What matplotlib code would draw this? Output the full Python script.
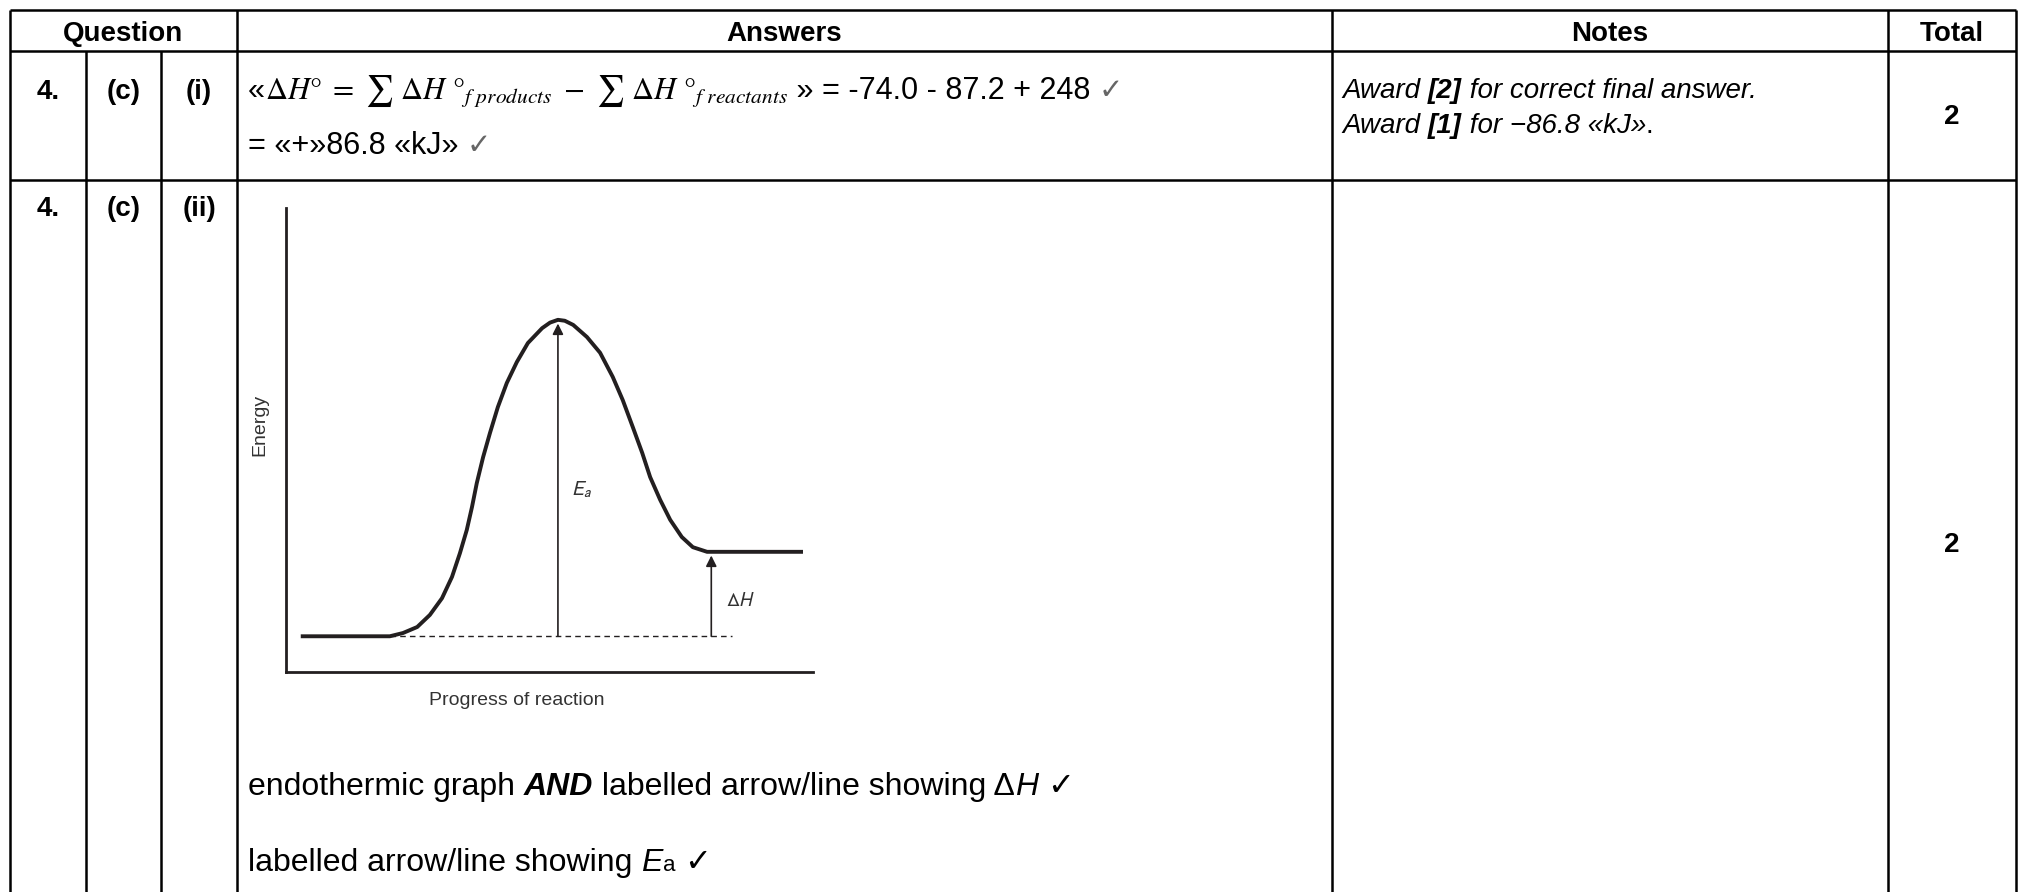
import matplotlib.pyplot as plt

# fonts: Arial-like text, serif math for the formula
plt.rcParams['font.family'] = ['Liberation Sans', 'DejaVu Sans']
plt.rcParams['mathtext.fontset'] = 'stix'

# ---- table content ----
headers = ['Question', 'Answers', 'Notes', 'Total']
row_labels = [['4.', '(c)', '(i)'], ['4.', '(c)', '(ii)']]
totals = ['2', '2']
formula = (r'$\Delta H°\ =\ \sum\ \Delta H\ °_{f\ products}'
           r'\ -\ \sum\ \Delta H\ °_{f\ reactants}$')
working = ' » = -74.0 - 87.2 + 248'
result = '= «+»86.8 «kJ»'
note_marks = ['[2]', '[1]']
note_tails = [' for correct final answer.', ' for \u221286.8 «kJ»']
mark_line1 = ['endothermic graph ', 'AND', ' labelled arrow/line showing \u0394', 'H', ' \u2713']
mark_line2 = ['labelled arrow/line showing ', 'E', 'a', ' \u2713']

# ---- energy profile (progress %, energy %) ----
progress = [2.8, 19.7, 22.2, 24.9, 27.3, 29.6, 31.5, 33.0, 34.3, 35.3, 36.2,
            37.4, 38.7, 40.2, 41.9, 43.8, 45.9, 48.6, 50.1, 51.6, 52.9, 54.5,
            57.1, 59.6, 62.0, 63.9, 65.8, 67.6, 69.1, 71.0, 72.9, 75.1, 77.2,
            79.9, 98.1]
energy = [7.7, 7.7, 8.4, 9.7, 12.3, 15.9, 20.5, 25.6, 30.6, 35.6, 40.7,
          46.3, 51.5, 57.1, 62.3, 66.8, 70.9, 74.1, 75.3, 75.9, 75.7, 74.8,
          72.2, 68.8, 63.6, 58.6, 52.8, 47.2, 42.0, 37.1, 32.8, 29.1, 26.9,
          25.9, 25.9]
reactant_level = 7.7
product_level = 25.9
peak_level = 75.9
peak_x = 51.6
dh_x = 80.7

# ---- figure in pixel units ----
W, H = 2018, 892
fig = plt.figure(figsize=(W / 100, H / 100), dpi=100)
ax = fig.add_axes([0, 0, 1, 1])
ax.set_xlim(0, W)
ax.set_ylim(H, 0)
ax.axis('off')
renderer = fig.canvas.get_renderer()

col_x = [10, 86, 161, 237, 1332, 1888, 2016]
row_y = [10, 51, 180]
lw = 1.8

for y in row_y:
    ax.hlines(y, col_x[0], col_x[-1], color='black', lw=lw)
for i, x in enumerate(col_x):
    top = row_y[0] if i in (0, 3, 4, 5, 6) else row_y[1]
    ax.vlines(x, top, H, color='black', lw=lw)


def run(x, y, pieces):
    # draw text pieces one after another along a baseline
    for txt, kw in pieces:
        t = ax.text(x, y, txt, ha='left', va='baseline', **kw)
        x += t.get_window_extent(renderer).width
    return x


# header
head_cx = [(col_x[0] + col_x[3]) / 2, (col_x[3] + col_x[4]) / 2,
           (col_x[4] + col_x[5]) / 2, (col_x[5] + col_x[6]) / 2]
for cx, h in zip(head_cx, headers):
    ax.text(cx, 41, h, ha='center', va='baseline', fontsize=20, fontweight='bold')

# row labels and totals
lab_cx = [(col_x[k] + col_x[k + 1]) / 2 for k in range(3)]
for base, labs in zip([99, 216], row_labels):
    for cx, lab in zip(lab_cx, labs):
        ax.text(cx, base, lab, ha='center', va='baseline', fontsize=20, fontweight='bold')
for base, tot in zip([124, 552], totals):
    ax.text(head_cx[3], base, tot, ha='center', va='baseline', fontsize=20, fontweight='bold')

# row 1 answers
sz = 22
check = dict(fontsize=sz - 1, color='#666666', family=['DejaVu Sans'])
run(248, 99, [('«', dict(fontsize=sz)),
              (formula, dict(fontsize=22)),
              (working + ' ', dict(fontsize=sz)),
              ('\u2713', check)])
run(248, 154, [(result + ' ', dict(fontsize=sz)),
               ('\u2713', check)])

# row 1 notes
nz = 20
for base, mark, tail in zip([98, 133], note_marks, note_tails):
    end = run(1342, base, [('Award ', dict(fontsize=nz, style='italic')),
                           (mark, dict(fontsize=nz, style='italic', fontweight='bold')),
                           (tail, dict(fontsize=nz, style='italic'))])
    if mark == '[1]':
        ax.text(end, base, '.', ha='left', va='baseline', fontsize=nz)

# row 2 markscheme lines
bz = 23
run(248, 795, [(mark_line1[0], dict(fontsize=bz)),
               (mark_line1[1], dict(fontsize=bz, style='italic', fontweight='bold')),
               (mark_line1[2], dict(fontsize=bz)),
               (mark_line1[3], dict(fontsize=bz, style='italic')),
               (mark_line1[4], dict(fontsize=bz, family=['DejaVu Sans']))])
run(248, 871, [(mark_line2[0], dict(fontsize=bz)),
               (mark_line2[1], dict(fontsize=bz, style='italic')),
               (mark_line2[2], dict(fontsize=bz - 7)),
               (mark_line2[3], dict(fontsize=bz, family=['DejaVu Sans']))])

# ---- energy profile diagram ----
left, right, top, bottom = 286, 813, 208, 672
dax = fig.add_axes([left / W, 1 - bottom / H, (right - left) / W, (bottom - top) / H])
dax.set_xlim(0, 100)
dax.set_ylim(0, 100)
dax.set_xticks([])
dax.set_yticks([])
dax.patch.set_alpha(0)
for s in ['top', 'right']:
    dax.spines[s].set_visible(False)
for s in ['left', 'bottom']:
    dax.spines[s].set_linewidth(2.0)
    dax.spines[s].set_color('#231f20')

ink = '#231f20'
dax.plot(progress, energy, color=ink, lw=2.8, solid_capstyle='butt',
         solid_joinstyle='round', clip_on=False)
dax.plot([progress[1], 84.6], [reactant_level, reactant_level], color=ink, lw=1.0,
         ls=(0, (4, 3)))
arrow = dict(arrowstyle='-|>', lw=1.2, color=ink, mutation_scale=16, shrinkA=0, shrinkB=0)
dax.annotate('', xy=(peak_x, peak_level - 0.8), xytext=(peak_x, reactant_level), arrowprops=arrow)
dax.annotate('', xy=(dh_x, product_level - 0.8), xytext=(dh_x, reactant_level), arrowprops=arrow)
dax.text(54.0, 39.2, r'$E_a$', fontsize=15, color='#333333', math_fontfamily='stixsans',
         ha='left', va='center')
dax.text(83.5, 15.4, r'$\Delta H$', fontsize=14, color='#333333', math_fontfamily='stixsans',
         ha='left', va='center')
dax.text(-4.9, 53.3, 'Energy', fontsize=14, color='#333333', rotation=90,
         ha='center', va='center', clip_on=False)
dax.text(43.8, -6.2, 'Progress of reaction', fontsize=14, color='#333333',
         ha='center', va='center', clip_on=False)

fig.savefig('out.png', dpi=100)
